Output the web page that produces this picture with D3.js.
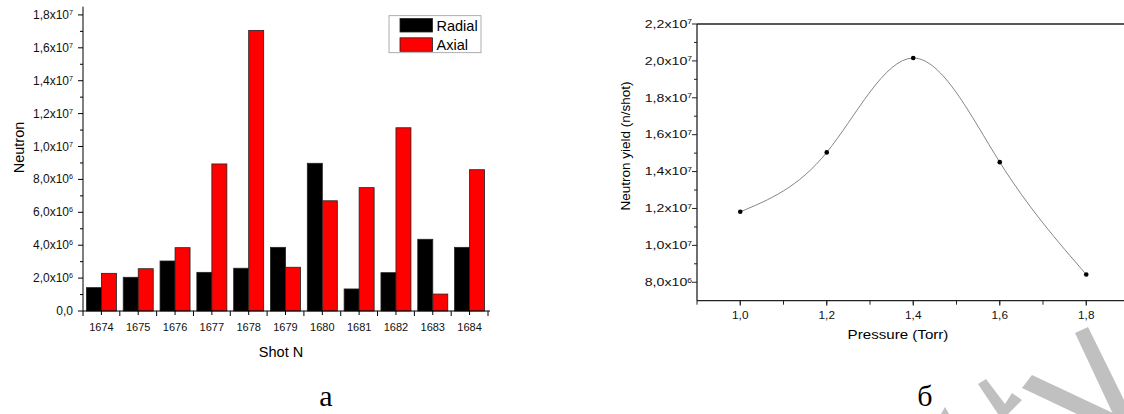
<!DOCTYPE html>
<html>
<head>
<meta charset="utf-8">
<script src="https://cdn.jsdelivr.net/npm/d3@7/dist/d3.min.js"></script>
<style>
  body { margin: 0; background: #fff; }
  svg { display: block; font-family: "Liberation Sans", Arial, sans-serif; }
</style>
</head>
<body>
<svg id="chart" width="1124" height="414"></svg>
<script>
// Panel a: neutron yield per shot
const shots = ["1674", "1675", "1676", "1677", "1678", "1679", "1680", "1681", "1682", "1683", "1684"];
const radial = [1.42e6, 2.05e6, 3.04e6, 2.35e6, 2.6e6, 3.87e6, 8.98e6, 1.34e6, 2.33e6, 4.36e6, 3.87e6];
const axial = [2.29e6, 2.57e6, 3.85e6, 8.94e6, 1.706e7, 2.66e6, 6.7e6, 7.5e6, 1.114e7, 1.03e6, 8.59e6];
const seriesNames = ["Radial", "Axial"];
const seriesColors = ["#000000", "#ff0000"];
const leftTicks = [0, 2e6, 4e6, 6e6, 8e6, 1e7, 1.2e7, 1.4e7, 1.6e7, 1.8e7];

// Panel b: yield vs pressure
const pressure = [1.0, 1.2, 1.4, 1.6, 1.8];
const yieldVals = [1.182e7, 1.504e7, 2.0155e7, 1.451e7, 8.42e6];
const rightYTicks = [8e6, 1e7, 1.2e7, 1.4e7, 1.6e7, 1.8e7, 2e7, 2.2e7];
const rightXTicks = [1.0, 1.2, 1.4, 1.6, 1.8];

const svg = d3.select("#chart");

// label like 1,8x10^7
function sciLabel(sel, v) {
  if (v === 0) { sel.text("0,0"); return; }
  const e = Math.floor(Math.log10(v) + 1e-9);
  const m = (v / Math.pow(10, e)).toFixed(1).replace(".", ",");
  sel.append("tspan").text(m + "x10");
  sel.append("tspan").attr("font-size", "0.6em").attr("dy", "-0.55em").text(e);
}

// ---------- panel a ----------
const ax0 = 83, ax1 = 488, ayBottom = 311;
const xBand = d3.scaleBand().domain(shots).range([ax0, ax1]).paddingInner(0.185).paddingOuter(0.0925);
const xSub = d3.scaleBand().domain(seriesNames).range([0, xBand.bandwidth()]);
const yLeft = d3.scaleLinear().domain([0, 1.85e7]).range([ayBottom, 6.7]);

const gA = svg.append("g");
const rows = shots.map((s, i) => ({ shot: s, vals: [radial[i], axial[i]] }));

gA.selectAll(".grp")
  .data(rows)
  .join("g")
  .attr("transform", d => `translate(${xBand(d.shot)},0)`)
  .selectAll("rect")
  .data(d => d.vals.map((v, j) => ({ name: seriesNames[j], v, c: seriesColors[j] })))
  .join("rect")
  .attr("x", d => xSub(d.name))
  .attr("width", xSub.bandwidth())
  .attr("y", d => yLeft(d.v))
  .attr("height", d => ayBottom - yLeft(d.v))
  .attr("fill", d => d.c)
  .attr("stroke", "#222")
  .attr("stroke-width", 0.8);

// y axis
const yAxisA = gA.append("g").attr("transform", `translate(${ax0},0)`);
yAxisA.append("line").attr("y1", 6.7).attr("y2", ayBottom).attr("stroke", "#000");
yAxisA.selectAll(".minor").data(d3.range(1e6, 1.85e7, 2e6)).join("line")
  .attr("x1", -3).attr("x2", 0).attr("y1", d => yLeft(d)).attr("y2", d => yLeft(d)).attr("stroke", "#000");
yAxisA.selectAll(".major").data(leftTicks).join("line")
  .attr("x1", -5).attr("x2", 0).attr("y1", d => yLeft(d)).attr("y2", d => yLeft(d)).attr("stroke", "#000");
yAxisA.selectAll(".lab").data(leftTicks).join("text")
  .attr("x", -10).attr("y", d => yLeft(d) + 4)
  .attr("text-anchor", "end").attr("font-size", 12).attr("fill", "#111")
  .each(function (d) { sciLabel(d3.select(this), d); });

// x axis
const xAxisA = gA.append("g").attr("transform", `translate(0,${ayBottom})`);
xAxisA.append("line").attr("x1", ax0).attr("x2", ax1 + 2).attr("stroke", "#000");
const step = xBand.step();
xAxisA.selectAll(".bnd").data(d3.range(shots.length + 1)).join("line")
  .attr("x1", i => ax0 + i * step).attr("x2", i => ax0 + i * step)
  .attr("y1", 0).attr("y2", 5).attr("stroke", "#000");
xAxisA.selectAll(".ctr").data(shots).join("line")
  .attr("x1", d => xBand(d) + xBand.bandwidth() / 2).attr("x2", d => xBand(d) + xBand.bandwidth() / 2)
  .attr("y1", 0).attr("y2", 4).attr("stroke", "#000");
xAxisA.selectAll(".lab").data(shots).join("text")
  .attr("x", d => xBand(d) + xBand.bandwidth() / 2).attr("y", 19.7)
  .attr("text-anchor", "middle").attr("font-size", 11).attr("fill", "#111")
  .text(d => d);

gA.append("text").attr("transform", "translate(24,147.5) rotate(-90)")
  .attr("text-anchor", "middle").attr("font-size", 14.5).text("Neutron");
gA.append("text").attr("x", 281).attr("y", 356.5)
  .attr("text-anchor", "middle").attr("font-size", 14.5).text("Shot N");

// legend
const leg = gA.append("g");
leg.append("rect").attr("x", 389).attr("y", 15.7).attr("width", 92).attr("height", 37)
  .attr("fill", "#fff").attr("stroke", "#999").attr("stroke-width", 0.8);
seriesNames.forEach((n, i) => {
  leg.append("rect").attr("x", 400).attr("y", 18.5 + i * 19.3).attr("width", 32.5).attr("height", 13.5)
    .attr("fill", seriesColors[i]).attr("stroke", "#222").attr("stroke-width", 0.8);
  leg.append("text").attr("x", 436.5).attr("y", 31 + i * 19.3).attr("font-size", 14.5).text(n);
});

// caption
svg.append("text").attr("x", 326).attr("y", 406).attr("text-anchor", "middle")
  .attr("font-family", "Liberation Serif, serif").attr("font-size", 30).text("а");

// ---------- panel b ----------
const bx0 = 697, byTop = 24, byBottom = 300.7;
const xR = d3.scaleLinear().domain([0.9, 1.9]).range([bx0, 1129.5]);
const yR = d3.scaleLinear().domain([7e6, 2.2e7]).range([byBottom, byTop]);
const gB = svg.append("g");

// frame lines
gB.append("line").attr("x1", bx0).attr("x2", 1124).attr("y1", byTop).attr("y2", byTop).attr("stroke", "#222").attr("stroke-width", 1.3);
gB.append("line").attr("x1", bx0).attr("x2", 1124).attr("y1", byBottom).attr("y2", byBottom).attr("stroke", "#222").attr("stroke-width", 1.3);
gB.append("line").attr("x1", bx0).attr("x2", bx0).attr("y1", byTop).attr("y2", byBottom).attr("stroke", "#222").attr("stroke-width", 1.3);

// y ticks
gB.selectAll(".ymin").data(d3.range(9e6, 2.2e7, 2e6)).join("line")
  .attr("x1", bx0 - 3).attr("x2", bx0).attr("y1", d => yR(d)).attr("y2", d => yR(d)).attr("stroke", "#222");
gB.selectAll(".ymaj").data(rightYTicks).join("line")
  .attr("x1", bx0 - 5).attr("x2", bx0).attr("y1", d => yR(d)).attr("y2", d => yR(d)).attr("stroke", "#222");
gB.selectAll(".ylab").data(rightYTicks).join("text")
  .attr("transform", d => `translate(${bx0 - 5},${yR(d) + 3.8}) scale(1.35,1)`)
  .attr("text-anchor", "end").attr("font-size", 10.5).attr("fill", "#111")
  .each(function (d) { sciLabel(d3.select(this), d); });

// x ticks
gB.selectAll(".xmin").data(d3.range(0.9, 1.95, 0.1)).join("line")
  .attr("x1", d => xR(d)).attr("x2", d => xR(d)).attr("y1", byBottom).attr("y2", byBottom + 4).attr("stroke", "#222");
gB.selectAll(".xmaj").data(rightXTicks).join("line")
  .attr("x1", d => xR(d)).attr("x2", d => xR(d)).attr("y1", byBottom).attr("y2", byBottom + 5).attr("stroke", "#222");
gB.selectAll(".xlab").data(rightXTicks).join("text")
  .attr("transform", d => `translate(${xR(d)},318.5) scale(1.12,1)`)
  .attr("text-anchor", "middle").attr("font-size", 10.5).attr("fill", "#111")
  .text(d => d.toFixed(1).replace(".", ","));

// curve and points
const pts = pressure.map((p, i) => [p, yieldVals[i]]);
const line = d3.line().x(d => xR(d[0])).y(d => yR(d[1])).curve(d3.curveNatural);
gB.append("path").attr("d", line(pts)).attr("fill", "none").attr("stroke", "#777").attr("stroke-width", 0.9);
gB.selectAll(".pt").data(pts).join("circle")
  .attr("cx", d => xR(d[0])).attr("cy", d => yR(d[1])).attr("r", 2.3).attr("fill", "#000");

gB.append("text").attr("transform", "translate(630,146) rotate(-90)")
  .attr("text-anchor", "middle").attr("font-size", 13.5).text("Neutron yield (n/shot)");
gB.append("text").attr("transform", "translate(898,338.5) scale(1.12,1)")
  .attr("text-anchor", "middle").attr("font-size", 13.5).text("Pressure (Torr)");

svg.append("text").attr("x", 925).attr("y", 406).attr("text-anchor", "middle")
  .attr("font-family", "Liberation Serif, serif").attr("font-size", 30).text("б");

// watermark fragments
const wm = svg.append("g").attr("fill", "#c0c0c0");
[
  "M1075,333 L1088,327 L1124,400 L1124,414 L1113,414 Z",
  "M1022,388 L1032,375 L1115,414 L1077,414 Z",
  "M978,384 L986,379 L1005,404 L1012,393 L1022,400 L1008,414 L998,414 Z",
  "M941,414 L945,407 L949,414 Z"
].forEach(d => wm.append("path").attr("d", d));
</script>
</body>
</html>
